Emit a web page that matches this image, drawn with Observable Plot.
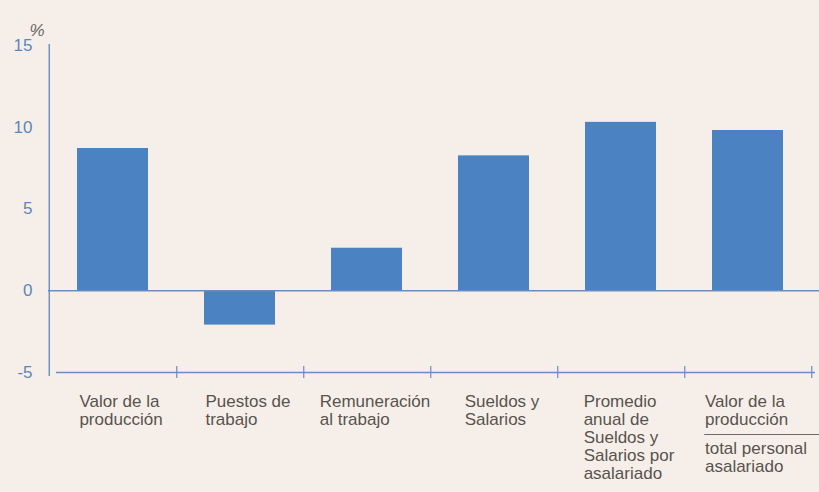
<!DOCTYPE html>
<html><head><meta charset="utf-8">
<script src="https://cdn.jsdelivr.net/npm/d3@7"></script>
<script src="https://cdn.jsdelivr.net/npm/@observablehq/plot@0.6"></script>
<style>
html,body{margin:0;padding:0;background:#f6efe9;overflow:hidden;}
#chart svg{display:block;overflow:visible;}
</style></head><body><div id="chart"></div>
<script>
// ---- data ----
const categories = [
  "Valor de la producción",
  "Puestos de trabajo",
  "Remuneración al trabajo",
  "Sueldos y Salarios",
  "Promedio anual de Sueldos y Salarios por asalariado",
  "Valor de la producción / total personal asalariado"
];
const values = [8.7, -2.1, 2.6, 8.25, 10.3, 9.8];
const labelLines = [
  "Valor de la\nproducción",
  "Puestos de\ntrabajo",
  "Remuneración\nal trabajo",
  "Sueldos y\nSalarios",
  "Promedio\nanual de\nSueldos y\nSalarios por\nasalariado",
  "Valor de la\nproducción"
];
const denominatorLabel = "total personal\nasalariado";
const yTicks = [-5, 0, 5, 10, 15];
const yDomain = [-5, 15];
const yUnit = "%";

// ---- styling ----
const W = 819, H = 492;
const mLeft = 48, mRight = 6, mTop = 45, mBottom = 120;
const barColor = "#4a82c2";
const axisColor = "#6a8cc0";
const tickColor = "#5d86b9";
const textColor = "#58534f";
const font = '"Liberation Sans", Arial, sans-serif';
const fs = 17;
const shift = 8;

const rows = categories.map((c, i) => ({category: c, value: values[i], label: labelLines[i]}));

const xOpts = {type: "band", domain: categories, range: [mLeft, W - mRight], paddingInner: 0.44, paddingOuter: 0.22};
const xs = Plot.scale({x: xOpts});
const step = xs.step ?? (W - mLeft - mRight) / categories.length;

const ctx = document.createElement("canvas").getContext("2d");
ctx.font = `${fs}px ${font}`;
const blockW = s => Math.max(...s.split("\n").map(l => ctx.measureText(l).width));
const lastRow = rows[rows.length - 1];
const lastDx = shift - blockW(denominatorLabel) / 2;
const lastStart = xs.apply(lastRow.category) + xs.bandwidth / 2 + lastDx;

const labelMarks = rows.map((r, i) => {
  const dx = i === rows.length - 1 ? lastDx : shift - blockW(r.label) / 2;
  return Plot.text([r], {
    x: "category", text: "label", frameAnchor: "bottom",
    textAnchor: "start", lineAnchor: "top", dx, dy: 22,
    fontSize: fs, lineHeight: 1.06, fill: textColor
  });
});

const chart = Plot.plot({
  width: W, height: H,
  marginLeft: mLeft, marginRight: mRight, marginTop: mTop, marginBottom: mBottom,
  style: {background: "transparent", fontFamily: font},
  x: {...xOpts, axis: null},
  y: {domain: yDomain, axis: null},
  marks: [
    Plot.barY(rows, {x: "category", y: "value", fill: barColor}),
    Plot.ruleY([0], {stroke: axisColor, strokeWidth: 1.4, insetRight: -6}),
    Plot.ruleY([yDomain[0]], {stroke: axisColor, strokeWidth: 1.4, insetLeft: 8, insetRight: -2}),
    Plot.ruleX(categories, {x: d => d, dx: step / 2, y1: yDomain[0], y2: yDomain[0], insetTop: -6, insetBottom: -6, stroke: axisColor, strokeWidth: 1.2}),
    Plot.ruleX([categories[0]], {x: d => d, dx: -step / 2, y1: yDomain[1], y2: yDomain[0], insetTop: -1, insetBottom: -4, stroke: axisColor, strokeWidth: 1.4}),
    Plot.axisY({ticks: yTicks, tickSize: 0, tickPadding: 16, color: tickColor, fontSize: 17, label: null, tickFormat: d => `${d}`}),
    Plot.text([yUnit], {frameAnchor: "top-left", dx: -19, dy: -22, fontSize: 17, fontStyle: "italic", fill: "#6a6460"}),
    ...labelMarks,
    Plot.ruleY([yDomain[0]], {dy: 62, insetLeft: lastStart - mLeft - 2, insetRight: -6, stroke: "#6e6a66", strokeWidth: 1.2}),
    Plot.text([denominatorLabel], {
      x: () => lastRow.category, frameAnchor: "bottom", textAnchor: "start", lineAnchor: "top",
      dx: lastDx, dy: 69, fontSize: fs, lineHeight: 1.06, fill: textColor
    })
  ]
});
document.getElementById("chart").appendChild(chart);
</script>
</body></html>
